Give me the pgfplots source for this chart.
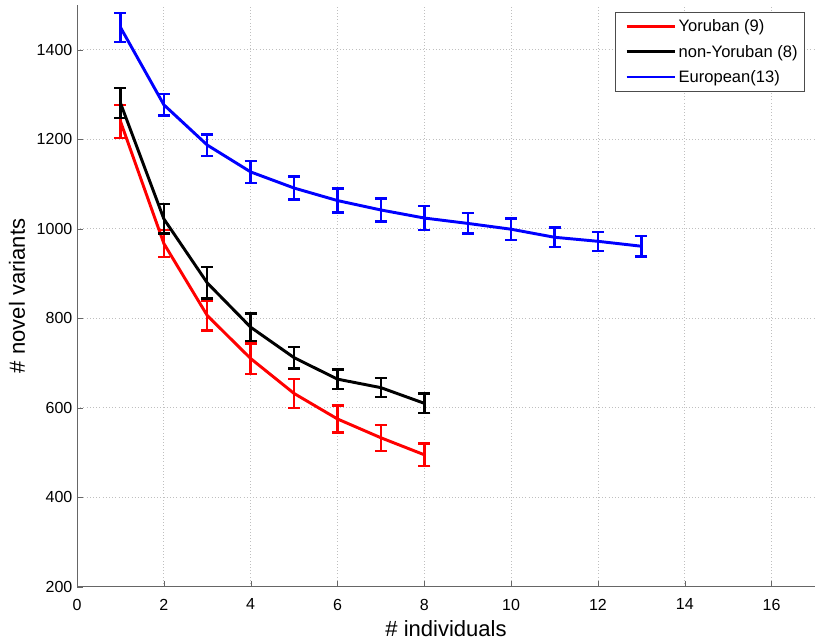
\documentclass[border=0pt]{standalone}
\usepackage{fontspec}
\setmainfont{Liberation Sans}
\usepackage{pgfplots}
\pgfplotsset{compat=1.18}
\begin{document}
\begin{tikzpicture}
\begin{axis}[
  scale only axis, width=553pt, height=436pt,
  xmin=0, xmax=17, ymin=200, ymax=1500,
  xtick={0,2,...,16}, ytick={200,400,...,1400},
  axis x line*=bottom, axis y line*=left,
  axis line style={black!60, line width=0.8pt},
  tick style={black!60},
  grid=major, grid style={dotted, black!25, line width=0.6pt},
  /pgf/number format/assume math mode=true,
  /pgf/number format/1000 sep={},
  ticklabel style={font=\fontsize{12}{14}\selectfont},
  xticklabel style={yshift=-5.5pt},
  xlabel={\# individuals}, ylabel={\# novel variants},
  label style={font=\fontsize{16.5}{18}\selectfont},
  xlabel style={at={(axis description cs:0.5,-0.0722)}, anchor=center},
  ylabel style={at={(axis description cs:-0.0814,0.5)}, anchor=center},
  legend style={at={(rel axis cs:0.986,0.988)}, anchor=north east, font=\fontsize{12.4}{14}\selectfont, draw=black!70, line width=0.6pt, cells={anchor=west, text height=9.5pt, text depth=3pt}, row sep=4pt, inner sep=3pt},
  legend cell align=left,
  legend image code/.code={\path (-4.5pt,0pt); \draw[#1, line width=2pt] (0pt,0pt) -- (36pt,0pt);},
  every axis plot/.append style={line width=2.2pt},
  error bars/error bar style={line width=1.8pt},
  error bars/error mark options={rotate=90, mark size=4.5pt, line width=1.8pt},
]
\addplot[red, error bars/.cd, y dir=both, y explicit] coordinates {
 (1,1240) +- (0,37)
 (2,967) +- (0,30)
 (3,806) +- (0,33)
 (4,710) +- (0,34)
 (5,632) +- (0,33)
 (6,575) +- (0,30)
 (7,533) +- (0,29)
 (8,495) +- (0,25)
};
\addlegendentry{Yoruban (9)}
\addplot[black, error bars/.cd, y dir=both, y explicit] coordinates {
 (1,1281) +- (0,34)
 (2,1022) +- (0,33)
 (3,879) +- (0,35)
 (4,780) +- (0,31)
 (5,712) +- (0,24)
 (6,664) +- (0,22)
 (7,645) +- (0,21)
 (8,610) +- (0,22)
};
\addlegendentry{non-Yoruban (8)}
\addplot[blue, error bars/.cd, y dir=both, y explicit] coordinates {
 (1,1450) +- (0,32)
 (2,1277) +- (0,24)
 (3,1187) +- (0,24)
 (4,1127) +- (0,25)
 (5,1091) +- (0,26)
 (6,1063) +- (0,27)
 (7,1042) +- (0,26)
 (8,1024) +- (0,27)
 (9,1012) +- (0,23)
 (10,999) +- (0,24)
 (11,981) +- (0,22)
 (12,972) +- (0,21)
 (13,961) +- (0,23)
};
\addlegendentry{European(13)}
\end{axis}
\pgfresetboundingbox
\path ([shift={(-57.75pt,-42.75pt)}]current axis.south west) rectangle ([shift={(9pt,3.75pt)}]current axis.north east);
\end{tikzpicture}
\end{document}
